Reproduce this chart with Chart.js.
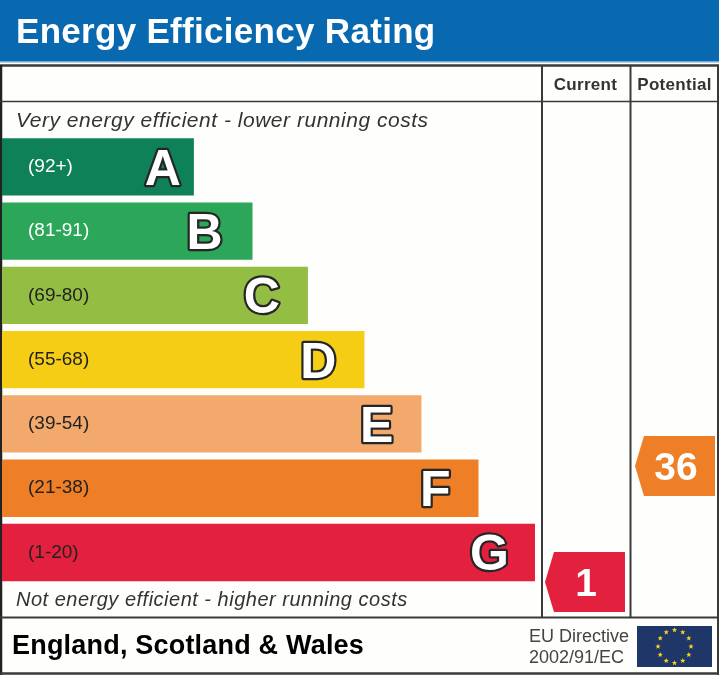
<!DOCTYPE html>
<html><head><meta charset="utf-8">
<style>html,body{margin:0;padding:0;background:#fefefd}#w{position:relative;width:719px;height:675px}canvas{display:block}</style>
<script src="https://cdn.jsdelivr.net/npm/chart.js@4"></script>
</head><body><div id="w"><canvas id="c" width="719" height="675"></canvas></div>
<script>
const bandLetters = ['A','B','C','D','E','F','G'];
const bandRanges = ['(92+)','(81-91)','(69-80)','(55-68)','(39-54)','(21-38)','(1-20)'];
const bandLengths = [36,47,57.4,68,78.7,89.4,100];
const bandColors = ['#0e8158','#2ca659','#93bd43','#f6cd15','#f2a96b','#ee7f27','#e3203d'];
const rangeColors = ['#ffffff','#ffffff','#222222','#222222','#222222','#222222','#222222'];
const columnNames = ['Current','Potential'];
const columnScores = [1,36];
const columnColors = ['#e3203d','#ee7f27'];
const titleText = 'Energy Efficiency Rating';
const topNote = 'Very energy efficient - lower running costs';
const bottomNote = 'Not energy efficient - higher running costs';
const regionText = 'England, Scotland & Wales';
const directiveLines = ['EU Directive','2002/91/EC'];

const F = '"Liberation Sans", Arial, sans-serif';
function txt(c,s,x,y,font,color,align,sp){c.font=font;c.fillStyle=color;c.textAlign=align||'left';c.textBaseline='alphabetic';c.letterSpacing=(sp||0)+'px';c.fillText(s,x,y);c.letterSpacing='0px';}
function line(c,x1,y1,x2,y2,w,col){c.beginPath();c.moveTo(x1,y1);c.lineTo(x2,y2);c.lineWidth=w;c.strokeStyle=col;c.stroke();}
function star(c,x,y,r){c.beginPath();for(let i=0;i<10;i++){const a=-Math.PI/2+i*Math.PI/5,q=i%2?r*0.42:r;c.lineTo(x+q*Math.cos(a),y+q*Math.sin(a));}c.closePath();c.fill();}

const frame = {
  id:'frame',
  beforeDraw(ch){
    const c=ch.ctx;c.save();
    c.fillStyle='#fefefd';c.fillRect(0,0,719,675);
    c.fillStyle='#0869b0';c.fillRect(0,0,719,61);
    c.fillStyle='#6fa8d6';c.fillRect(0,61,719,1.5);
    txt(c,titleText,16,43,'bold 35px '+F,'#ffffff','left',0.3);
    const dk='#3a3a3a';
    line(c,0,65.5,719,65.5,2.5,dk);
    line(c,1,65,1,675,2.5,'#222');
    line(c,718,65,718,675,2,dk);
    line(c,0,101.5,719,101.5,1.5,dk);
    line(c,0,617.5,719,617.5,2,dk);
    line(c,0,673.5,719,673.5,2.5,dk);
    line(c,542,65,542,617,2,dk);
    line(c,630.5,65,630.5,617,2,dk);
    txt(c,columnNames[0],585.5,90,'bold 17px '+F,'#333','center',0.3);
    txt(c,columnNames[1],674.5,90,'bold 17px '+F,'#333','center',0.3);
    txt(c,topNote,16,127,'italic 21px '+F,'#333','left',0.52);
    txt(c,bottomNote,16,606,'italic 20px '+F,'#333','left',0.5);
    txt(c,regionText,12,654,'bold 27px '+F,'#000','left',0.2);
    txt(c,directiveLines[0],529,642,'18px '+F,'#444','left',0);
    txt(c,directiveLines[1],529,663,'18px '+F,'#444','left',0);
    c.fillStyle='#1f3668';c.fillRect(637,626,75,41);
    c.fillStyle='#f6d21e';
    for(let i=0;i<12;i++){const a=i*Math.PI/6;star(c,674.5+16.5*Math.sin(a),646.5-16.5*Math.cos(a),2.8);}
    c.restore();
  },
  afterDatasetsDraw(ch){
    const c=ch.ctx;c.save();
    const bars=ch.getDatasetMeta(0).data;
    const insets=[13,30,28,28,28,28,26];
    bars.forEach((b,i)=>{
      const inset=insets[i];
      c.font='bold 50px '+F;c.textAlign='right';c.textBaseline='alphabetic';
      c.lineJoin='round';c.lineWidth=4.5;c.strokeStyle='#262626';
      const y=b.y+18;
      c.strokeText(bandLetters[i],b.x-inset,y);
      c.fillStyle='#ffffff';c.fillText(bandLetters[i],b.x-inset,y);
    });
    const pts=ch.getDatasetMeta(1).data;
    pts.forEach((p,i)=>{
      const x=p.x,y=p.y;
      c.fillStyle=columnColors[i];
      c.beginPath();
      c.moveTo(x-40,y);c.lineTo(x-31,y-30);c.lineTo(x+40,y-30);c.lineTo(x+40,y+30);c.lineTo(x-31,y+30);c.closePath();c.fill();
      txt(c,String(columnScores[i]),x+1,y+14,'bold 39px '+F,'#ffffff','center',0);
    });
    c.restore();
  }
};

new Chart(document.getElementById('c'),{
  data:{
    labels:bandRanges,
    datasets:[
      {type:'bar',indexAxis:'y',grouped:false,data:bandLengths,backgroundColor:bandColors,xAxisID:'x',yAxisID:'y',barPercentage:0.893,categoryPercentage:1,borderWidth:0},
      {type:'scatter',data:columnScores.map((s,i)=>({x:i,y:s})),xAxisID:'xColumn',yAxisID:'yScore',pointRadius:0,pointHoverRadius:0}
    ]
  },
  options:{
    responsive:false,animation:false,devicePixelRatio:1,
    layout:{padding:{left:2,right:2,top:134.7,bottom:90.4}},
    plugins:{legend:{display:false},title:{display:false},tooltip:{enabled:false}},
    scales:{
      x:{type:'linear',axis:'x',display:false,min:0,max:134.15},
      y:{type:'category',axis:'y',position:'left',offset:true,afterFit(s){s.width=0;},
         grid:{display:false,drawTicks:false},border:{display:false},
         ticks:{z:1,mirror:true,padding:26,autoSkip:false,maxRotation:0,color:rangeColors,font:{family:'"Liberation Sans"',size:19,weight:'500'}}},
      xColumn:{type:'linear',axis:'x',display:false,min:-6.478,max:1.467},
      yScore:{type:'linear',axis:'y',display:false,min:0.2,max:135.9}
    }
  },
  plugins:[frame]
});
</script></body></html>
